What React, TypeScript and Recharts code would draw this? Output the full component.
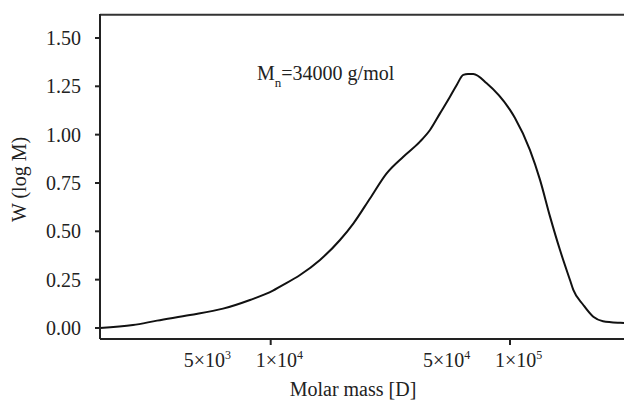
import { LineChart, Line, XAxis, YAxis, Label, CartesianGrid } from 'recharts'

// molar mass (g/mol) and weight fraction W(log M)
const molarMass = [
  1935, 2658, 3349, 4600, 6320, 8195, 10220, 10940, 13260, 16070, 19480, 22140,
  26000, 30520, 35830, 42060, 46310, 50990, 56140, 59900, 63800, 66760, 70240,
  79900, 100000, 104900, 121200, 133500, 147000, 161800, 178100, 183900, 202500,
  222900, 244700, 288200, 299500,
]
const weightFraction = [
  0.0, 0.015, 0.038, 0.067, 0.1, 0.145, 0.193, 0.214, 0.274, 0.352, 0.455, 0.54,
  0.67, 0.8, 0.886, 0.964, 1.024, 1.11, 1.196, 1.257, 1.309, 1.314, 1.314,
  1.266, 1.128, 1.086, 0.92, 0.766, 0.576, 0.403, 0.248, 0.197, 0.119,
  0.058, 0.035, 0.027, 0.026,
]
const xTicks = [5000, 10000, 50000, 100000]
const yTicks = [0, 0.25, 0.5, 0.75, 1.0, 1.25, 1.5]

const FONT = 'Liberation Serif, Times New Roman, DejaVu Serif, serif'
const INK = '#222'
const Y_MAX = 1.624

const data = molarMass.map((m, i) => ({ m, w: weightFraction[i] }))

// tick label like 5×10³, with a tick mark only on the decades
function MassTick({ x, y, payload }: any) {
  const v = payload.value
  const exp = Math.floor(Math.log10(v) + 1e-9)
  const mant = Math.round(v / Math.pow(10, exp))
  return (
    <g>
      {mant === 1 && <line x1={x} x2={x} y1={y} y2={y + 6} stroke={INK} strokeWidth={2} />}
      <text x={x - 15} y={y + 28} textAnchor="start" style={{ fontFamily: FONT, fontSize: 20 }} fill={INK}>
        {mant}×10
        <tspan dy={-8} style={{ fontSize: 12 }}>{exp}</tspan>
      </text>
    </g>
  )
}

export default function App() {
  return (
    <div style={{ position: 'absolute', left: 0, top: 0, width: 624, height: 400, overflow: 'hidden', background: '#fff' }}>
      <LineChart width={624} height={400} data={data} margin={{ top: 14, right: 0, bottom: 0, left: 0 }}>
        {/* top frame line */}
        <CartesianGrid
          vertical={false}
          horizontalValues={[Y_MAX - 0.004]}
          stroke="#333"
          strokeWidth={2}
        />
        <XAxis
          dataKey="m"
          type="number"
          scale="log"
          domain={[1935, 299500]}
          allowDataOverflow
          ticks={xTicks}
          height={61}
          tickLine={false}
          tickSize={0}
          tickMargin={0}
          tick={<MassTick />}
          axisLine={{ stroke: INK, strokeWidth: 2 }}
        >
          <Label
            content={({ viewBox }: any) => (
              <text
                x={viewBox.x + viewBox.width / 2 - 9}
                y={viewBox.y + viewBox.height - 4}
                textAnchor="middle"
                style={{ fontFamily: FONT, fontSize: 20 }}
                fill={INK}
              >
                Molar mass [D]
              </text>
            )}
          />
        </XAxis>
        <YAxis
          type="number"
          domain={[-0.057, Y_MAX]}
          allowDataOverflow
          ticks={yTicks}
          width={100}
          tickSize={5}
          tickMargin={14}
          tickFormatter={(v: number) => v.toFixed(2)}
          tick={{ fill: INK, style: { fontFamily: FONT, fontSize: 20 } }}
          tickLine={{ stroke: INK, strokeWidth: 2 }}
          axisLine={{ stroke: INK, strokeWidth: 2 }}
        >
          <Label
            content={({ viewBox }: any) => {
              const cx = viewBox.x + 26
              const cy = viewBox.y + viewBox.height / 2 + 3
              return (
                <text
                  x={cx}
                  y={cy}
                  transform={`rotate(-90, ${cx}, ${cy})`}
                  textAnchor="middle"
                  style={{ fontFamily: FONT, fontSize: 20 }}
                  fill={INK}
                >
                  W (log M)
                </text>
              )
            }}
          />
        </YAxis>
        <Line
          type="monotone"
          dataKey="w"
          stroke="#111"
          strokeWidth={2}
          dot={false}
          isAnimationActive={false}
        />
        <text x={257} y={80} style={{ fontFamily: FONT, fontSize: 20 }} fill={INK}>
          M
          <tspan dy={7} style={{ fontSize: 13 }}>n</tspan>
          <tspan dy={-7}>=34000 g/mol</tspan>
        </text>
      </LineChart>
    </div>
  )
}
